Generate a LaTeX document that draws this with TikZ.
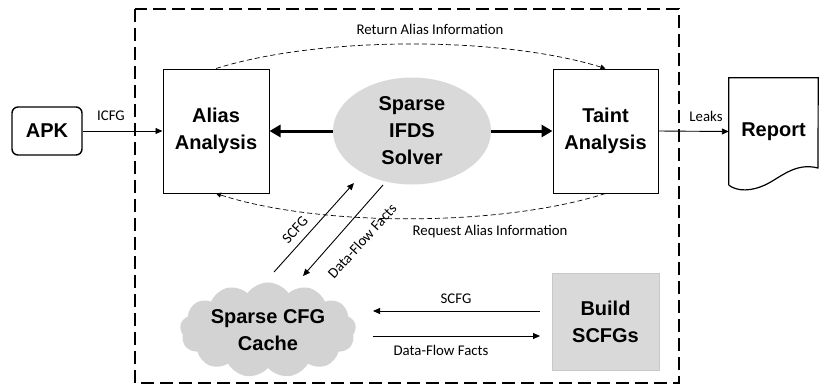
\documentclass[tikz,border=0pt]{standalone}
\usepackage{fontspec}
\setmainfont{Liberation Sans}
\newfontfamily\labfont{Carlito}
\usetikzlibrary{arrows.meta,shapes.geometric,shapes.symbols}
\definecolor{boxgray}{HTML}{D9D9D9}
\definecolor{cloudgray}{HTML}{D3D3D3}
\tikzset{
  big/.style={font=\fontsize{20}{27}\selectfont\bfseries, align=center},
  lab/.style={font=\labfont\fontsize{14.8}{16}\selectfont, inner sep=0pt},
  procbox/.style={big, draw, line width=1pt, inner sep=0pt},
  thin/.style={line width=0.9pt, -{Triangle[length=7pt,width=6pt]}},
  thick/.style={line width=3pt, -{Triangle[length=11pt,width=12pt]}},
  dcurve/.style={line width=0.7pt, dash pattern=on 5pt off 3pt, -{Triangle[length=5pt,width=5pt]}},
}
\begin{document}
\begin{tikzpicture}[x=1pt,y=-1pt]
\useasboundingbox (0,0) rectangle (819,384);
% outer dashed frame
\draw[line width=1.8pt, dash pattern=on 13pt off 6pt] (135,9) rectangle (679,383);
% nodes
\node[procbox, rounded corners=6pt, line width=1.4pt, minimum width=70pt, minimum height=48pt] (apk) at (47,131) {APK};
\node[procbox, minimum width=106pt, minimum height=124pt] (alias) at (216,131) {Alias\\Analysis};
\node[procbox, minimum width=105pt, minimum height=124pt] (taint) at (605.5,131) {Taint\\Analysis};
\node[big, ellipse, fill=boxgray, minimum width=158pt, minimum height=107pt, inner sep=0pt] (ifds) at (412,131) {Sparse\\IFDS\\Solver};
\node[big, minimum width=89pt, minimum height=107pt, inner sep=0pt] (report) at (773.5,131.5) {Report};
\draw[line width=1.2pt] (report.south west) -- (report.north west) -- (report.north east) -- (818,168)
  .. controls (795,162) and (780,178) .. (765,185) .. controls (752,191) and (738,192) .. (report.south west);
\node[big, cloud, cloud puffs=13, cloud puff arc=110, aspect=2.1, fill=cloudgray, minimum width=176pt, minimum height=95pt, inner sep=0pt] (cache) at (268,330) {Sparse CFG\\Cache};
\node[big, fill=boxgray, draw=boxgray!92!black, line width=0.5pt, minimum width=107pt, minimum height=97pt, inner sep=0pt] (build) at (605.5,321.5) {Build\\SCFGs};
% connectors
\draw[thin] (apk.east) -- (alias.west);
\node[lab] (icfg) at (111,116) {ICFG};
\draw[thin] (taint.east) -- (report.west);
\node[lab] (leaks) at (706,116) {Leaks};
\draw[thick] (ifds.west) -- (alias.east);
\draw[thick] (ifds.east) -- (taint.west);
\draw[dcurve] (alias.north) .. controls (320,36) and (500,36) .. (taint.north);
\node[lab] (ret) at (430,29) {Return Alias Information};
\draw[dcurve] (taint.south) .. controls (500,227) and (320,227) .. (alias.south);
\node[lab] (req) at (490,232) {Request Alias Information};
% diagonal arrows
\coordinate (s1) at (274,272);
\coordinate (s2) at (354,183);
\coordinate (d1) at (383,185);
\coordinate (d2) at (303,276);
\draw[thin] (s1) -- (s2);
\draw[thin] (d1) -- (d2);
\node[lab, rotate=48] (scfgd) at (295,230) {SCFG};
\node[lab, rotate=48] (dffd) at (362,241) {Data-Flow Facts};
% horizontal arrows
\coordinate (h1) at (540,311);
\coordinate (h2) at (373,311);
\coordinate (h3) at (373,336);
\coordinate (h4) at (540,336);
\draw[thin] (h1) -- (h2);
\draw[thin] (h3) -- (h4);
\node[lab] (scfgh) at (456,299) {SCFG};
\node[lab] (dffh) at (441,350) {Data-Flow Facts};
\end{tikzpicture}
\end{document}
